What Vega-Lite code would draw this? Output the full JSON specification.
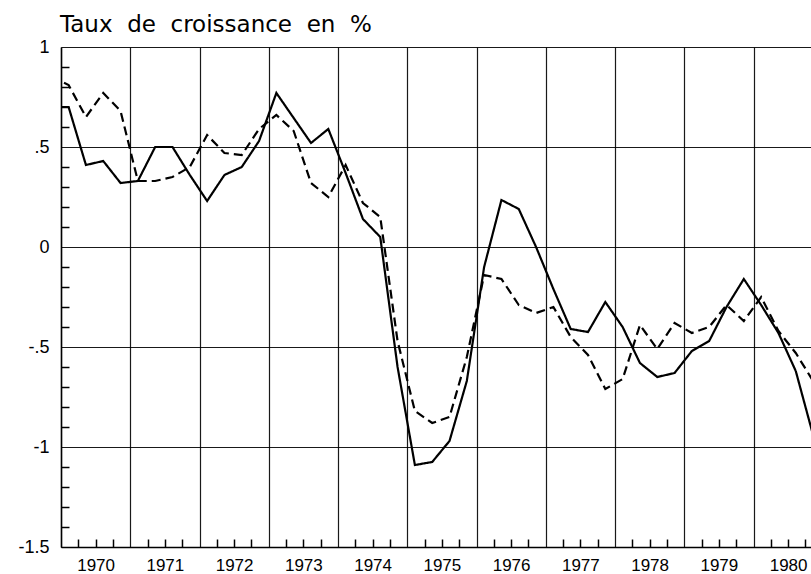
{
  "$schema": "https://vega.github.io/schema/vega-lite/v6.json",
  "autosize": "none",
  "width": 750,
  "height": 500,
  "padding": {"left": 61, "top": 47, "right": 0, "bottom": 27},
  "background": "white",
  "config": {"view": {"stroke": null}},
  "title": {
    "text": "Taux\u00a0 de\u00a0 croissance\u00a0 en\u00a0 %",
    "anchor": "start",
    "frame": "group",
    "font": "DejaVu Sans",
    "fontSize": 23,
    "fontWeight": "normal",
    "color": "black",
    "baseline": "alphabetic",
    "offset": 6,
    "dy": 23,
    "dx": -1
  },
  "data": {
    "values": [
      {"t": 1969.86, "v": 0.70, "s": "serie1"},
      {"t": 1970.11, "v": 0.70, "s": "serie1"},
      {"t": 1970.36, "v": 0.41, "s": "serie1"},
      {"t": 1970.61, "v": 0.43, "s": "serie1"},
      {"t": 1970.86, "v": 0.32, "s": "serie1"},
      {"t": 1971.11, "v": 0.33, "s": "serie1"},
      {"t": 1971.36, "v": 0.50, "s": "serie1"},
      {"t": 1971.61, "v": 0.50, "s": "serie1"},
      {"t": 1971.86, "v": 0.36, "s": "serie1"},
      {"t": 1972.11, "v": 0.23, "s": "serie1"},
      {"t": 1972.36, "v": 0.36, "s": "serie1"},
      {"t": 1972.61, "v": 0.40, "s": "serie1"},
      {"t": 1972.86, "v": 0.53, "s": "serie1"},
      {"t": 1973.11, "v": 0.77, "s": "serie1"},
      {"t": 1973.36, "v": 0.645, "s": "serie1"},
      {"t": 1973.61, "v": 0.52, "s": "serie1"},
      {"t": 1973.86, "v": 0.59, "s": "serie1"},
      {"t": 1974.11, "v": 0.37, "s": "serie1"},
      {"t": 1974.36, "v": 0.14, "s": "serie1"},
      {"t": 1974.61, "v": 0.05, "s": "serie1"},
      {"t": 1974.86, "v": -0.60, "s": "serie1"},
      {"t": 1975.11, "v": -1.09, "s": "serie1"},
      {"t": 1975.36, "v": -1.075, "s": "serie1"},
      {"t": 1975.61, "v": -0.97, "s": "serie1"},
      {"t": 1975.86, "v": -0.67, "s": "serie1"},
      {"t": 1976.11, "v": -0.10, "s": "serie1"},
      {"t": 1976.36, "v": 0.235, "s": "serie1"},
      {"t": 1976.61, "v": 0.19, "s": "serie1"},
      {"t": 1976.86, "v": 0.00, "s": "serie1"},
      {"t": 1977.11, "v": -0.21, "s": "serie1"},
      {"t": 1977.36, "v": -0.41, "s": "serie1"},
      {"t": 1977.61, "v": -0.425, "s": "serie1"},
      {"t": 1977.86, "v": -0.275, "s": "serie1"},
      {"t": 1978.11, "v": -0.40, "s": "serie1"},
      {"t": 1978.36, "v": -0.58, "s": "serie1"},
      {"t": 1978.61, "v": -0.65, "s": "serie1"},
      {"t": 1978.86, "v": -0.63, "s": "serie1"},
      {"t": 1979.11, "v": -0.52, "s": "serie1"},
      {"t": 1979.36, "v": -0.47, "s": "serie1"},
      {"t": 1979.61, "v": -0.30, "s": "serie1"},
      {"t": 1979.86, "v": -0.16, "s": "serie1"},
      {"t": 1980.11, "v": -0.29, "s": "serie1"},
      {"t": 1980.36, "v": -0.43, "s": "serie1"},
      {"t": 1980.61, "v": -0.62, "s": "serie1"},
      {"t": 1980.86, "v": -0.94, "s": "serie1"},
      {"t": 1969.86, "v": 0.85, "s": "serie2"},
      {"t": 1970.11, "v": 0.81, "s": "serie2"},
      {"t": 1970.36, "v": 0.65, "s": "serie2"},
      {"t": 1970.61, "v": 0.77, "s": "serie2"},
      {"t": 1970.86, "v": 0.68, "s": "serie2"},
      {"t": 1971.11, "v": 0.33, "s": "serie2"},
      {"t": 1971.36, "v": 0.33, "s": "serie2"},
      {"t": 1971.61, "v": 0.35, "s": "serie2"},
      {"t": 1971.86, "v": 0.40, "s": "serie2"},
      {"t": 1972.11, "v": 0.56, "s": "serie2"},
      {"t": 1972.36, "v": 0.47, "s": "serie2"},
      {"t": 1972.61, "v": 0.46, "s": "serie2"},
      {"t": 1972.86, "v": 0.59, "s": "serie2"},
      {"t": 1973.11, "v": 0.66, "s": "serie2"},
      {"t": 1973.36, "v": 0.58, "s": "serie2"},
      {"t": 1973.61, "v": 0.32, "s": "serie2"},
      {"t": 1973.86, "v": 0.25, "s": "serie2"},
      {"t": 1974.11, "v": 0.41, "s": "serie2"},
      {"t": 1974.36, "v": 0.22, "s": "serie2"},
      {"t": 1974.61, "v": 0.15, "s": "serie2"},
      {"t": 1974.86, "v": -0.47, "s": "serie2"},
      {"t": 1975.11, "v": -0.82, "s": "serie2"},
      {"t": 1975.36, "v": -0.88, "s": "serie2"},
      {"t": 1975.61, "v": -0.85, "s": "serie2"},
      {"t": 1975.86, "v": -0.55, "s": "serie2"},
      {"t": 1976.11, "v": -0.14, "s": "serie2"},
      {"t": 1976.36, "v": -0.16, "s": "serie2"},
      {"t": 1976.61, "v": -0.29, "s": "serie2"},
      {"t": 1976.86, "v": -0.33, "s": "serie2"},
      {"t": 1977.11, "v": -0.30, "s": "serie2"},
      {"t": 1977.36, "v": -0.45, "s": "serie2"},
      {"t": 1977.61, "v": -0.54, "s": "serie2"},
      {"t": 1977.86, "v": -0.71, "s": "serie2"},
      {"t": 1978.11, "v": -0.66, "s": "serie2"},
      {"t": 1978.36, "v": -0.39, "s": "serie2"},
      {"t": 1978.61, "v": -0.51, "s": "serie2"},
      {"t": 1978.86, "v": -0.38, "s": "serie2"},
      {"t": 1979.11, "v": -0.43, "s": "serie2"},
      {"t": 1979.36, "v": -0.40, "s": "serie2"},
      {"t": 1979.61, "v": -0.29, "s": "serie2"},
      {"t": 1979.86, "v": -0.37, "s": "serie2"},
      {"t": 1980.11, "v": -0.25, "s": "serie2"},
      {"t": 1980.36, "v": -0.42, "s": "serie2"},
      {"t": 1980.61, "v": -0.53, "s": "serie2"},
      {"t": 1980.86, "v": -0.67, "s": "serie2"}
    ]
  },
  "resolve": {"axis": {"x": "independent", "y": "independent"}},
  "layer": [
    {
      "mark": {"type": "line", "clip": true, "color": "black", "strokeWidth": 2.2},
      "encoding": {
        "x": {
          "field": "t", "type": "quantitative",
          "scale": {"domain": [1970, 1980.83], "nice": false, "zero": false},
          "axis": {
            "orient": "bottom",
            "title": null,
            "values": [1970, 1971, 1972, 1973, 1974, 1975, 1976, 1977, 1978, 1979, 1980],
            "format": "d",
            "grid": true, "gridColor": "black", "gridOpacity": 0.9, "gridWidth": 1.2,
            "ticks": false, "tickSize": 0,
            "domain": true, "domainColor": "black", "domainWidth": 1.5,
            "labelFont": "Liberation Sans", "labelFontSize": 17, "labelColor": "black",
            "labelOffset": 34.6, "labelPadding": 23, "labelBaseline": "alphabetic",
            "labelOverlap": false, "labelBound": false, "labelFlush": false
          }
        },
        "y": {
          "field": "v", "type": "quantitative",
          "scale": {"domain": [-1.5, 1], "nice": false, "zero": false},
          "axis": {
            "orient": "left",
            "title": null,
            "values": [-1.5, -1, -0.5, 0, 0.5, 1],
            "labelExpr": "datum.value == 1 ? '1' : datum.value == 0.5 ? '.5' : datum.value == 0 ? '0' : datum.value == -0.5 ? '-.5' : datum.value == -1 ? '-1' : '-1.5'",
            "grid": true, "gridColor": "black", "gridOpacity": 0.9, "gridWidth": 1.2,
            "ticks": false, "tickSize": 0,
            "domain": true, "domainColor": "black", "domainWidth": 1.5,
            "labelFont": "Liberation Sans", "labelFontSize": 18, "labelColor": "black",
            "labelPadding": 12, "labelOverlap": false, "labelBound": false, "labelFlush": false
          }
        },
        "strokeDash": {
          "field": "s", "type": "nominal",
          "scale": {"domain": ["serie1", "serie2"], "range": [[1, 0], [9, 5]]},
          "legend": null
        }
      }
    },
    {
      "mark": {"type": "line", "clip": true, "strokeOpacity": 0},
      "encoding": {
        "x": {
          "field": "t", "type": "quantitative",
          "axis": {
            "orient": "bottom",
            "title": null,
            "values": [1970.25, 1970.5, 1970.75, 1971.25, 1971.5, 1971.75, 1972.25, 1972.5, 1972.75, 1973.25, 1973.5, 1973.75, 1974.25, 1974.5, 1974.75, 1975.25, 1975.5, 1975.75, 1976.25, 1976.5, 1976.75, 1977.25, 1977.5, 1977.75, 1978.25, 1978.5, 1978.75, 1979.25, 1979.5, 1979.75, 1980.25, 1980.5, 1980.75],
            "labels": false, "grid": false, "domain": false,
            "ticks": true, "tickSize": -8, "tickColor": "black", "tickWidth": 1.5
          }
        },
        "y": {
          "field": "v", "type": "quantitative",
          "axis": {
            "orient": "left",
            "title": null,
            "values": [-1.4, -1.3, -1.2, -1.1, -0.9, -0.8, -0.7, -0.6, -0.4, -0.3, -0.2, -0.1, 0.1, 0.2, 0.3, 0.4, 0.6, 0.7, 0.8, 0.9],
            "labels": false, "grid": false, "domain": false,
            "ticks": true, "tickSize": -8, "tickColor": "black", "tickWidth": 1.5
          }
        },
        "detail": {"field": "s", "type": "nominal"}
      }
    }
  ]
}
